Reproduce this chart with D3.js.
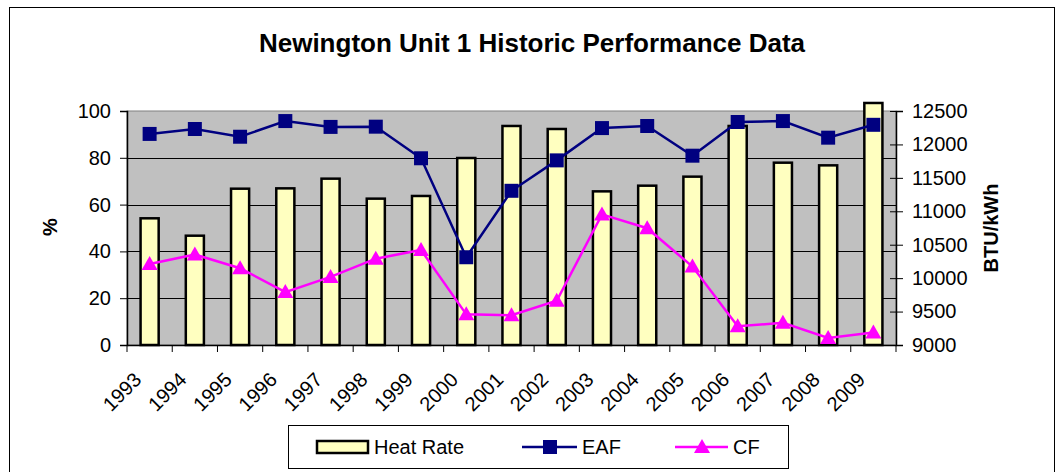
<!DOCTYPE html>
<html>
<head>
<meta charset="utf-8">
<script src="https://cdn.jsdelivr.net/npm/d3@7"></script>
<style>
  body { margin: 0; background: #fff; }
  svg { display: block; font-family: "Liberation Sans", Arial, sans-serif; }
</style>
</head>
<body>
<div id="chart"></div>
<script>
// chart values
var years = ['1993', '1994', '1995', '1996', '1997', '1998', '1999', '2000', '2001',
  '2002', '2003', '2004', '2005', '2006', '2007', '2008', '2009'];
var heatRate = [10895, 10635, 11338, 11343, 11488, 11189, 11229, 11797, 12276,
  12231, 11298, 11383, 11518, 12276, 11727, 11687, 12620];
var eaf = [90.2, 92.3, 89.0, 95.7, 93.2, 93.3, 79.8, 37.5, 65.9,
  78.9, 92.7, 93.6, 80.9, 95.3, 95.7, 88.6, 94.1];
var cf = [34.6, 38.7, 32.8, 22.6, 29.1, 36.9, 40.6, 13.1, 12.7,
  18.9, 55.8, 49.9, 33.5, 8.0, 9.5, 3.0, 5.3];
var leftTicks = [0, 20, 40, 60, 80, 100];
var rightTicks = [9000, 9500, 10000, 10500, 11000, 11500, 12000, 12500];
var seriesNames = ['Heat Rate', 'EAF', 'CF'];
var chartTitle = 'Newington Unit 1 Historic Performance Data';

var W = 1056, H = 472;
var plot = { left: 127, right: 896, top: 111, bottom: 345 };

var svg = d3.select('#chart').append('svg')
  .attr('width', W).attr('height', H);

// outer frame
svg.append('rect')
  .attr('x', 9.5).attr('y', 7.5).attr('width', 1045).attr('height', 480)
  .attr('fill', '#fff').attr('stroke', '#000').attr('stroke-width', 1);

svg.append('text')
  .attr('x', 532).attr('y', 52)
  .attr('text-anchor', 'middle')
  .attr('font-size', 26).attr('font-weight', 'bold')
  .text(chartTitle);

var x = d3.scaleBand().domain(years).range([plot.left, plot.right]);
var yL = d3.scaleLinear().domain([0, 100]).range([plot.bottom, plot.top]);
var yR = d3.scaleLinear().domain([9000, 12500]).range([plot.bottom, plot.top]);

// plot area
svg.append('rect')
  .attr('x', plot.left).attr('y', plot.top)
  .attr('width', plot.right - plot.left).attr('height', plot.bottom - plot.top)
  .attr('fill', '#c0c0c0').attr('stroke', '#808080').attr('stroke-width', 1);

// gridlines
svg.append('g').selectAll('line')
  .data(leftTicks.slice(1, -1))
  .join('line')
  .attr('x1', plot.left).attr('x2', plot.right)
  .attr('y1', function(d) { return Math.round(yL(d)) + 0.5; })
  .attr('y2', function(d) { return Math.round(yL(d)) + 0.5; })
  .attr('stroke', '#000').attr('stroke-width', 1);

// heat rate bars
var bw = x.bandwidth() * 0.4;
svg.append('g').selectAll('rect')
  .data(heatRate)
  .join('rect')
  .attr('x', function(d, i) { return x(years[i]) + (x.bandwidth() - bw) / 2; })
  .attr('y', function(d) { return yR(d); })
  .attr('width', bw)
  .attr('height', function(d) { return plot.bottom - yR(d); })
  .attr('fill', '#ffffc0').attr('stroke', '#000').attr('stroke-width', 2.5);

// axes
var leftAxis = d3.axisLeft(yL).tickValues(leftTicks).tickSize(7).tickPadding(9);
var gL = svg.append('g').attr('transform', 'translate(' + plot.left + ',0)').call(leftAxis);

var rightAxis = d3.axisRight(yR).tickValues(rightTicks).tickSize(7).tickPadding(9)
  .tickFormat(d3.format('d'));
var gR = svg.append('g').attr('transform', 'translate(' + plot.right + ',0)').call(rightAxis);
gR.selectAll('.tick line').attr('x1', -6);

var bottomAxis = d3.axisBottom(x).tickSize(0).tickFormat('');
var gB = svg.append('g').attr('transform', 'translate(0,' + plot.bottom + ')').call(bottomAxis);

// category boundary ticks
gB.selectAll('.bound')
  .data(d3.range(years.length + 1))
  .join('line')
  .attr('x1', function(i) { return plot.left + i * x.step(); })
  .attr('x2', function(i) { return plot.left + i * x.step(); })
  .attr('y1', 0).attr('y2', 7)
  .attr('stroke', '#000');

[gL, gR, gB].forEach(function(g) {
  g.selectAll('.domain').attr('stroke', '#000').attr('stroke-width', 1.5);
  g.selectAll('.tick line').attr('stroke', '#000');
  g.selectAll('text').attr('font-size', 20).attr('fill', '#000')
    .attr('font-family', '"Liberation Sans", Arial, sans-serif');
});

// rotated year labels
svg.append('g').selectAll('text')
  .data(years)
  .join('text')
  .attr('transform', function(d) {
    return 'translate(' + (x(d) + x.bandwidth() / 2 - 7) + ',' + (plot.bottom + 36) + ') rotate(-45)';
  })
  .attr('text-anchor', 'end')
  .attr('font-size', 20)
  .text(function(d) { return d; });

// axis titles
svg.append('text')
  .attr('transform', 'translate(57,227) rotate(-90)')
  .attr('text-anchor', 'middle')
  .attr('font-size', 20).attr('font-weight', 'bold')
  .text('%');
svg.append('text')
  .attr('transform', 'translate(998,228) rotate(-90)')
  .attr('text-anchor', 'middle')
  .attr('font-size', 20).attr('font-weight', 'bold')
  .text('BTU/kWh');

// lines
var cx = function(d, i) { return x(years[i]) + x.bandwidth() / 2; };
var pctLine = d3.line().x(cx).y(function(d) { return yL(d); });
svg.append('path').datum(eaf)
  .attr('d', pctLine).attr('fill', 'none')
  .attr('stroke', '#000080').attr('stroke-width', 2.5);
svg.append('path').datum(cf)
  .attr('d', pctLine).attr('fill', 'none')
  .attr('stroke', '#ff00ff').attr('stroke-width', 2.5);

var square = d3.symbol().type(d3.symbolSquare).size(196);
var triangle = 'M0,-8L8,6L-8,6Z';

svg.append('g').selectAll('path')
  .data(eaf)
  .join('path')
  .attr('transform', function(d, i) { return 'translate(' + cx(d, i) + ',' + yL(d) + ')'; })
  .attr('d', square).attr('fill', '#000080');

svg.append('g').selectAll('path')
  .data(cf)
  .join('path')
  .attr('transform', function(d, i) { return 'translate(' + cx(d, i) + ',' + yL(d) + ')'; })
  .attr('d', triangle).attr('fill', '#ff00ff');

// legend
var legend = svg.append('g');
legend.append('rect')
  .attr('x', 288.5).attr('y', 425.5).attr('width', 500).attr('height', 43)
  .attr('fill', '#fff').attr('stroke', '#000');
legend.append('rect')
  .attr('x', 317).attr('y', 441).attr('width', 51).attr('height', 12)
  .attr('fill', '#ffffc0').attr('stroke', '#000').attr('stroke-width', 2.5);
legend.append('line')
  .attr('x1', 522).attr('x2', 577).attr('y1', 447).attr('y2', 447)
  .attr('stroke', '#000080').attr('stroke-width', 2.5);
legend.append('path')
  .attr('transform', 'translate(550,447)').attr('d', square).attr('fill', '#000080');
legend.append('line')
  .attr('x1', 675).attr('x2', 728).attr('y1', 447).attr('y2', 447)
  .attr('stroke', '#ff00ff').attr('stroke-width', 2.5);
legend.append('path')
  .attr('transform', 'translate(702,447)').attr('d', triangle).attr('fill', '#ff00ff');
legend.selectAll('text.lbl')
  .data(seriesNames)
  .join('text')
  .attr('class', 'lbl')
  .attr('x', function(d, i) { return [374, 582, 733][i]; })
  .attr('y', 454)
  .attr('font-size', 20)
  .text(function(d) { return d; });
</script>
</body>
</html>
